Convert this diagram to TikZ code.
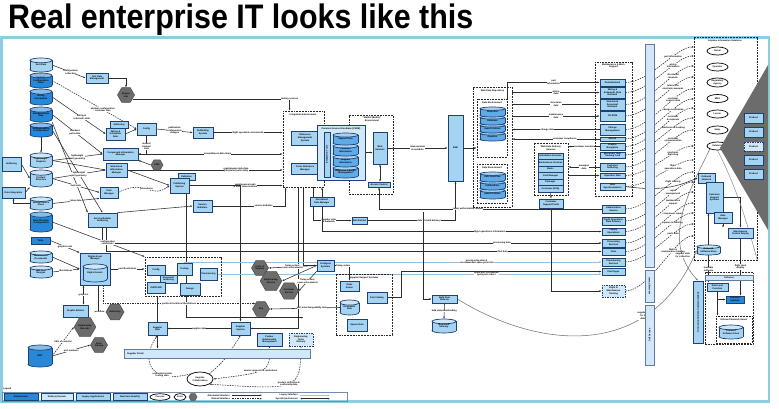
\documentclass[tikz,border=0pt]{standalone}
\usepackage{fontspec}
\usepackage{graphicx}
\setmainfont{Liberation Sans}
\usetikzlibrary{shapes.geometric,arrows.meta,calc}
\pgfdeclarelayer{bg}
\pgfsetlayers{bg,main}
\definecolor{lightc}{RGB}{165,212,243}
\definecolor{darkc}{RGB}{40,135,215}
\definecolor{midc}{RGB}{95,170,232}
\definecolor{bordc}{RGB}{30,65,115}
\definecolor{panelc}{RGB}{140,205,228}
\definecolor{hexc}{RGB}{108,108,108}
\definecolor{linec}{RGB}{45,45,45}
\definecolor{lblue}{RGB}{150,192,222}
\definecolor{bandc}{RGB}{208,232,250}
\newcommand\tf{\fontsize{2.3}{2.6}\selectfont\bfseries}
\newcommand\mybox[7][lb]{\node[#1,minimum width={(#5-#3)*1pt},minimum height={(#6-#4)*1pt}] (#2) at ({(#3+#5)/2},{(#4+#6)/2}) {#7};}
\newcommand\mycyl[7][lightc]{%
 \pgfmathsetmacro\cxa{(#3+#5)/2}\pgfmathsetmacro\crx{(#5-#3)/2}%
 \pgfmathsetmacro\cry{min(2.6,(#6-#4)*0.17)}%
 \pgfmathsetmacro\cyt{#4+\cry}\pgfmathsetmacro\cyb{#6-\cry}%
 \filldraw[fill=#1,draw=bordc,line width=0.7pt] (\cxa,\cyb) ellipse [x radius=\crx pt, y radius=\cry pt];
 \fill[#1] (#3,\cyt) rectangle (#5,\cyb);
 \draw[bordc,line width=0.7pt] (#3,\cyt) -- (#3,\cyb) (#5,\cyt) -- (#5,\cyb);
 \filldraw[fill=#1!55!white,draw=bordc,line width=0.7pt] (\cxa,\cyt) ellipse [x radius=\crx pt, y radius=\cry pt];
 \node[font=\tf,align=center,inner sep=0pt,minimum width={(#5-#3)*1pt},minimum height={(#6-#4)*1pt}] (#2) at (\cxa,{(#4+#6)/2}) {#7};}
\tikzset{
 lb/.style={draw=bordc,fill=lightc,line width=0.7pt,inner sep=0.3pt,font=\tf,align=center},
 db/.style={lb,fill=darkc},
 lbd/.style={lb,fill=bandc,dash pattern=on 1.5pt off 1pt},
 grp/.style={draw=black!85,dash pattern=on 1.8pt off 1pt,line width=0.75pt,inner sep=0pt},
 barb/.style={lb,fill=bandc,draw=bordc!70},
 hx/.style={regular polygon,regular polygon sides=6,fill=hexc,draw=black!70,line width=0.5pt,font=\tf,align=center,inner sep=0pt},
 ell/.style={ellipse,draw=black,line width=0.7pt,fill=white,inner sep=0pt,font=\tf,align=center},
 cn/.style={draw=linec,line width=0.55pt,-{Latex[length=2.2pt,width=1.8pt]}},
 dcn/.style={cn,dash pattern=on 1.5pt off 1pt},
 bcn/.style={draw=linec,line width=0.55pt,{Latex[length=2.2pt,width=1.8pt]}-{Latex[length=2.2pt,width=1.8pt]}},
 lbc/.style={draw=lblue,line width=0.8pt,-{Latex[length=2.2pt,width=1.8pt]}},
 lbl/.style={font=\tf,fill=white,inner sep=0.2pt,align=center},
 gl/.style={font=\tf,align=center,inner sep=0pt},
}
\begin{document}
\begin{tikzpicture}[x=1pt,y=-1pt]
\useasboundingbox (0,0) rectangle (779,409);
% title
\node[anchor=base west,inner sep=0pt,font=\fontsize{34}{36}\selectfont\bfseries] (title) at (8,29) {\scalebox{0.895}[1]{Real enterprise IT looks like this}};
\draw[panelc,line width=2.2pt] (1.5,37.5) rectangle (769,401.5);

% ---------------- left column
\mycyl[darkc]{c5}{30}{123}{52}{137}{3D Engineering\\Configuration}
\mycyl[darkc]{c4}{30}{107}{52}{122}{Standard Parts\\Data}
\mycyl[darkc]{c3}{30}{89}{52}{105}{Wiring\\Information}
\mycyl[darkc]{c2}{30}{73}{52}{88}{Systems\\Configuration\\Items}
\mycyl{c1}{30}{58}{52}{72}{Item Data}
\mycyl{c7}{30}{170}{52}{187}{Product\\Structure}
\mycyl{c6}{30}{153}{52}{168}{Lightweight\\Graphics}
\mybox{auth1}{2}{157}{21}{171}{Authoring}
\mybox{dint}{2}{187}{25}{198}{Data Integration}
\mycyl{c8}{30}{197}{52}{210}{Vehicle Source\\Plans}
\mycyl[darkc]{c9}{30}{212}{52}{232}{Fleet Planning\\Configuration}
\mybox[db]{tools}{31}{237}{50}{244}{Tools}
\mycyl{c11}{30}{266}{52}{278}{IMF Tool\\Designs}
\mycyl{c10}{30}{251}{52}{263}{Maintenance\\Documents}
\mycyl[darkc]{erp}{28}{345}{52}{367}{ERP}

% ---------------- middle left
\mybox{rdm}{86}{73}{108}{83}{Test Data\\Management}
\node[hx,minimum size=17pt] (hxa) at (126,95) {Engine\\Lab};
\mybox{auth2}{110}{121}{128}{128}{Authoring}
\mybox{wir}{106}{128}{125}{140}{Wiring \&\\Schematic\\Data}
\mybox{cfg}{137}{123}{156}{135}{Config}
\mybox{pub1}{193}{127}{213}{138}{Publishing\\System}
\mybox{cim}{103}{148}{138}{160}{Component Information\\Manager}
\node[hx,minimum size=12pt] (hxb) at (157,165) {CMS};
\mybox{sim}{106}{163}{127}{177}{Structured\\Information\\Manager}
\mybox{pubb}{178}{173}{195}{180}{Publisher}
\mybox{pubs}{170}{178}{189}{193}{Publishing\\System}
\mybox{task}{100}{187}{118}{198}{Task\\Manager}
\mybox{sb}{193}{200}{212}{212}{Service\\Bulletins}
\mybox{ssb}{88}{213}{117}{227}{Service Bulletin\\Authoring}
\mybox{dam}{80}{253}{110}{285}{}
\node[gl] (damt) at (95,258) {Digital Asset\\Manager};
\mycyl{damc}{83}{264}{107}{282}{Digital Assets}
\mybox[grp]{g1}{145}{257}{221}{296}{}
\mybox{cfg2}{147}{265}{165}{275}{Config}
\mybox{tool2}{177}{263}{192}{275}{Tooling}
\mybox{sda}{160}{275}{177}{283}{Document\\Authoring}
\mybox{supl}{147}{282}{165}{293}{SUPPLIER}
\mybox{design}{180}{283}{200}{295}{Design}
\mybox{prov}{200}{268}{217}{280}{Provisioning}
\mybox{ged}{63}{305}{88}{317}{Graphic Editors}
\node[hx,minimum size=18pt] (hxc) at (115,312) {Authoring};
\node[hx,minimum size=17pt] (hxd) at (85,327) {Engineering\\Records};
\node[hx,minimum size=17pt] (hxe) at (99,345) {Parts\\Catalog};
\mybox{supd}{148}{322}{167}{335}{Supplier\\Data}
\mybox[barb]{band}{124}{349}{310}{358}{}
\node[gl,anchor=west] (bandt) at (127,353.5) {Supplier Portal};
\node[ell,minimum width=26pt,minimum height=14pt] (spell) at (200,379) {Supplier\\Collaboration};
\mybox{supsys}{231}{322}{250}{335}{Supplier\\System}
\mybox{prm}{257}{333}{282}{346}{Partner\\Relationship\\Management}
\mybox[lbd]{eod}{289}{333}{313}{346}{Engineering\\Order\\Delivery}
\node[hx,minimum size=17pt] (hf) at (260,268) {Parts of\\Supplier};
\node[hx,minimum size=17pt] (hg) at (271,281) {Engineering\\Service};
\node[hx,minimum size=19pt] (hh) at (289,291) {Customer\\Service};
\node[hx,minimum size=17pt] (hi) at (261,309) {Sky};
\mybox{cfgsys}{317}{260}{334}{271}{Configure\\Systems}
\mybox[grp]{sss}{336}{274}{392}{335}{}
\node[gl] (ssst) at (364,277.5) {Supplier Support Systems};
\mybox{ssa}{340}{281}{359}{291}{Order\\Status}
\mybox{pcat}{367}{292}{387}{303}{Part Catalog}
\mycyl{sscyl}{340}{300}{359}{315}{Evaluation\\Data}
\mybox{spares}{347}{319}{367}{331}{Spares Data}

% ---------------- centre
\mybox[grp]{ie}{283}{111}{324}{187}{}
\node[gl] (iet) at (303,115) {Integration Environment};
\mybox{rms}{291}{131}{319}{145}{Reference\\Management\\System}
\mybox{crm}{291}{163}{319}{174}{Cross Reference\\Manager}
\mybox[grp]{mm}{349}{115}{393}{194}{}
\node[gl] (mmt) at (372,119) {``MultiUI (Bullet)''\\Environment};
\mybox[lb,fill=bandc]{csdb}{317}{125}{365}{180}{}
\node[gl] (csdbt) at (341,128.5) {Common Source Data Base (CSDB)};
\mybox{vbar}{324}{132}{330}{177}{}
\node[gl,rotate=90] (vbart) at (vbar) {Integration Tools};
\mycyl[midc]{s4}{333}{166}{358}{178}{Reference Change\\Management}
\mycyl[midc]{s3}{333}{155}{358}{167}{Support\\Information}
\mycyl[midc]{s2}{333}{144}{358}{156}{Common\\Information}
\mycyl[midc]{s1}{333}{133}{358}{145}{Support Data}
\mybox{ws}{373}{132}{387}{164}{Web\\Services}
\mybox{ac}{368}{182}{390}{187}{Access Control}
\mybox{dsm}{310}{197}{334}{206}{Distributed\\Data Manager}
\mybox{dext}{352}{217}{367}{224}{Data Extract}
\mybox{esb}{448}{115}{463}{181}{ESB}
\mybox[grp]{wdr}{473}{87}{512}{207}{}
\node[gl] (wdrt) at (492.5,91) {Web Data Repository};
\mybox[grp]{de1}{477}{99}{507}{157}{}
\node[gl] (de1t) at (492,103) {Data Environment};
\mycyl[midc]{d14}{480}{132}{505}{141}{Graphics}
\mycyl[midc]{d13}{480}{124}{505}{133}{Search Indices}
\mycyl[midc]{d12}{480}{116}{505}{125}{Database}
\mycyl[midc]{d11}{480}{107}{505}{117}{Data Files}
\mybox[grp]{de2}{477}{164}{507}{203}{}
\node[gl] (de2t) at (492,168) {Data Environment};
\mycyl[midc]{d23}{480}{189}{505}{199}{Search Indices}
\mycyl[midc]{d22}{480}{181}{505}{190}{Publications}
\mycyl[midc]{d21}{480}{172}{505}{182}{XML Data Files}
\mybox[grp]{wdd}{534}{143}{568}{195}{}
\node[gl] (wddt) at (551,148) {Web Data Delivery\\Services};
\mybox{w1}{538}{153}{563}{159}{Installation Services}
\mybox{w2}{538}{159}{563}{166}{Maintenance Services}
\mybox{w3}{538}{166}{563}{172}{Basic}
\mybox{w4}{538}{172}{563}{179}{Cmd Manager}
\mybox{w5}{538}{179}{563}{185}{Packager}
\mybox{w6}{538}{185}{563}{192}{Customer Notify}
\mybox{csp}{539}{199}{563}{208}{Customer\\Support Portal}
\mybox{bulk}{432}{295}{457}{303}{Bulk Data\\Delivery}
\mycyl{bulkc}{432}{319}{456}{333}{Bulk Data\\Delivery}

% ---------------- right
\mybox[grp]{r1}{595}{62}{632}{196}{}
\node[gl] (r1t) at (613.5,66) {Maintenance \& Work\\Support};
\mybox{r1a}{600}{79}{625}{86}{Data Retrieval}
\mybox{r1b}{600}{87}{625}{98}{Wiring \&\\Schematic Data\\Retrieval}
\mybox{r1c}{600}{99}{625}{110}{Structured\\Document\\Retrieval}
\mybox{r1d}{600}{111}{625}{121}{CD-ROM}
\mybox{r1e}{600}{124}{625}{135}{Change\\Management}
\mybox{r1f}{600}{137}{625}{141}{Search}
\mybox{r1g}{600}{143}{625}{150}{Graphic\\Navigation}
\mybox{r1h}{600}{152}{625}{158}{Electronic Task\\Tracking Card}
\mybox{r1i}{600}{163}{625}{171}{Customer\\Authoring}
\mybox{r1j}{600}{173}{625}{178}{Operation Data}
\mybox{r1k}{600}{183}{625}{190}{Data\\Synchronization}
\mybox{r2a}{602}{205}{625}{213}{Authorization\\Service}
\mybox{r2b}{602}{217}{625}{225}{Flight Operations\\Data Delivery}
\mybox{r2c}{602}{228}{625}{235}{Legacy\\Operations}
\mybox{r2d}{602}{239}{625}{247}{Processing\\Services}
\mybox{r2e}{602}{248}{625}{255}{Tools}
\mybox{r2f}{602}{258}{625}{266}{Provisioning\\Services}
\mybox{r2g}{602}{268}{625}{275}{Part Pages}
\mybox[lbd]{r2h}{602}{285}{625}{297}{Flight \&\\Maintenance\\Training}
\mybox[barb]{bar1}{645}{44}{654}{267}{}
\mybox[barb]{bar2}{645}{270}{654}{302}{}
\node[gl,rotate=90] (bar2t) at (bar2) {Learning Center};
\mybox[barb]{bar3}{645}{305}{654}{365}{}
\node[gl,rotate=90] (bar3t) at (bar3) {Self Service};
\mybox[grp]{ais}{694}{37}{757}{260}{}
\node[gl] (aist) at (725,41) {Airplane Information Solutions};
\node[ell,minimum width=21pt,minimum height=8pt] (e1) at (717.5,51) {Owner};
\node[ell,minimum width=21pt,minimum height=8pt] (e2) at (717.5,67) {Operator};
\node[ell,minimum width=21pt,minimum height=9pt] (e3) at (717.5,82.5) {Regulatory\\Agency};
\node[ell,minimum width=21pt,minimum height=8pt] (e4) at (717.5,98.5) {MRO};
\node[ell,minimum width=21pt,minimum height=8pt] (e5) at (717.5,114) {Lessor};
\node[ell,minimum width=21pt,minimum height=8pt] (e6) at (717.5,130) {Sales};
\node[ell,minimum width=21pt,minimum height=8pt] (e7) at (717.5,146) {Solutions};
\fill[hexc] (720,148) -- (768,65) -- (768,230) -- cycle;
\mybox{p1}{744}{113}{763}{123}{Product}
\mybox{p2}{744}{127}{763}{137}{Product}
\mybox[lbd]{p3}{744}{142}{763}{151}{Product}
\mybox{p4}{744}{155}{763}{165}{Product}
\mybox{p5}{744}{169}{763}{179}{Product}
\mybox{onb}{698}{173}{715}{183}{Onboard\\Network}
\mybox{css}{706}{182}{723}{213}{Customer\\Support\\Systems}
\mybox{dmg}{714}{212}{732}{223}{Data\\Manager}
\mybox{mcd}{728}{228}{753}{238}{Maintenance\\Control Display}
\mycyl{osw}{697}{245}{720}{255}{Onboard\\Software Store}
\mybox{tall}{693}{281}{703}{343}{}
\node[gl,rotate=90] (tallt) at (tall) {Air-to-Ground Data Communications};
\mybox[grp]{air}{705}{272}{753}{344}{}
\mybox[barb]{airh}{705}{275}{753}{280}{Airborne}
\mybox{air1}{707}{283}{728}{291}{Data Load\\Function}
\mybox[db]{air2}{726}{296}{744}{303}{Onboard\\Systems}
\mybox[grp]{air3}{716}{316}{752}{343}{}
\node[gl] (air3t) at (734,320) {Onboard Network Server};
\mycyl{aircyl}{719}{325}{743}{339}{Onboard\\Software Store}

% ---------------- legend
\node[gl,anchor=west] (legt) at (3,389) {Legend};
\draw[bordc!60,line width=0.5pt] (2,392) rectangle (347,401);
\mybox[db]{lg1}{4}{393.5}{38}{400.5}{Data Domain}
\mybox[lb,fill=bandc]{lg2}{41}{393.5}{73}{400.5}{Delivery Domain}
\mybox{lg3}{76}{393.5}{110}{400.5}{Legacy Applications}
\mybox{lg4}{113}{393.5}{147}{400.5}{New Functionality}
\node[ell,minimum width=20pt,minimum height=6.5pt] (lg5) at (160,397) {Process};
\node[ell,minimum width=12pt,minimum height=6.5pt] (lg6) at (180,397) {Actor};
\node[hx,minimum size=8pt] (lg7) at (193,397) {};
\coordinate (la1) at (232,395.3); \coordinate (la2) at (262,395.3);
\coordinate (lb1) at (232,398.7); \coordinate (lb2) at (262,398.7);
\coordinate (lc1) at (300,395.3); \coordinate (lc2) at (330,395.3);
\coordinate (ld1) at (300,398.7); \coordinate (ld2) at (330,398.7);
\node[gl,anchor=east] (lat) at (230,395.3) {Automated Interface};
\node[gl,anchor=east] (lbt) at (230,398.7) {Manual Interface};
\node[gl,anchor=east] (lct) at (298,395.3) {Legacy Interface};
\node[gl,anchor=east] (ldt) at (298,398.7) {Sync/Asynchronous};

% ---------------- connectors (behind)
\begin{pgfonlayer}{bg}
\fill[white] (0,0) rectangle (779,409);
\draw[cn] (la1) -- (la2);
\draw[dcn] (lb1) -- (lb2);
\draw[lbc] (lc1) -- (lc2);
\draw[bcn] (ld1) -- (ld2);
% left column
\draw[cn] (c1.east) -- node[lbl,pos=0.55]{configuration\\collection} (rdm.west);
\draw[cn] (rdm.east) -| (hxa.north);
\draw[cn] (hxa.-30) -| node[lbl,pos=0.5]{tooling sources} ([xshift=7pt]ie.north west);
\draw[dcn] (c2.east) -- node[lbl,pos=0.6]{airplane configuration\\customer data} (cfg.west);
\draw[cn] (c3.east) -- node[lbl,pos=0.55]{wiring \&\\schematic data} (wir.west);
\draw[cn] (c4.east) -- node[lbl,pos=0.45]{standard\\parts data} (cim.west);
\draw[cn] (c4.south east) -- (ssb.north west);
\draw[cn] (c5.east) -- (ssb.north);
\draw[cn] (c5.south) -- (c6.north);
\draw[cn] (auth1.east) -- (c7.west);
\draw[cn] (c8.west) -| (dint.south);
\draw[cn] (dint.east) -- (c7.south west);
\draw[cn] (c6.east) -- node[lbl,pos=0.5]{lightweight\\part geometry} (cim.west);
\draw[cn] (c6.east) -- (sim.west);
\draw[cn] (c7.east) -- node[lbl,pos=0.5]{lightweight\\part geometry} (sim.west);
\draw[cn] (c7.east) -- node[lbl,pos=0.5]{task data} (task.west);
\draw[cn] (c8.east) -- node[lbl,pos=0.5]{labor data} (task.south west);
\draw[cn] (wir.east) -- (cfg.west);
\draw[cn] (cfg.east) -- node[lbl,pos=0.5]{publication\\configuration\\changes} (pub1.west);
\draw[cn] (cfg.south) |- node[lbl,pos=0.3]{manual\\tracked\\data} (cim.east);
\draw[cn] (hxb.west) -- (cim.south east);
\draw[cn] (sim.east) -- (pubs.west);
\draw[dcn] (task.east) .. controls (145,178) and (150,200) .. node[lbl,pos=0.5]{procedures} (pubs.west);
\draw[cn] (pub1.east) -- node[lbl,pos=0.5]{flight operations documents} (pub1.east -| ie.west);
\draw[cn] (cim.east) -- node[lbl,pos=0.55]{airworthiness data items} (cim.east -| ie.west);
\draw[cn] (sim.east) -- node[lbl,pos=0.7]{maintenance task data\\(illustrated parts data)} (sim.east -| ie.west);
\draw[cn] (pubs.east) -- node[lbl,pos=0.6]{maintenance tasks\\\& other data modules} (pubs.east -| ie.west);
\draw[cn] (sb.east) -| node[lbl,pos=0.35]{service bulletins} ([xshift=3pt]ie.south west);
\draw[cn] (ssb.north east) -- (sb.west);
\draw[cn] (pubs.east) -| (supsys.north);
\draw[cn] ([xshift=-3pt]pubs.south east) |- ([yshift=4pt]supsys.north -| ie.south);
% centre
\draw[cn] (rms.east) -- (rms.east -| csdb.west);
\draw[cn] (crm.east) -- (crm.east -| csdb.west);
\draw[cn] (csdb.east) -- (csdb.east -| ws.west);
\draw[bcn] (ws.south) -- (ws.south |- ac.north);
\draw[cn] (ws.east) -- node[lbl,pos=0.5]{released data\\\& metadata} (ws.east -| esb.west);
\draw[cn] (esb.east) -- (esb.east -| de1.west);
\draw[cn] (dsm.north) -- (dsm.north |- ie.south);
\draw[cn] (ie.south) |- (cfgsys.west);
\draw[cn] ([xshift=-5pt]ie.south) |- (supsys.east);
\draw[cn] ([xshift=10pt]ie.south) |- node[lbl,pos=0.7]{supplier data\\\& metadata} (dext.west);
\draw[cn] (dext.east) -| node[lbl,pos=0.35]{data for bulk delivery} (esb.south);
\draw[cn] (de1.north east) |- node[lbl,pos=0.75]{part\\information} (r1a.west);
\draw[cn] (wdr.east |- r1b.west) -- node[lbl]{wiring\\data} (r1b.west);
\draw[cn] (wdr.east |- r1c.west) -- node[lbl]{structures\\data} (r1c.west);
\draw[cn] (wdr.east |- r1d.west) -- node[lbl]{maintenance\\data} (r1d.west);
\draw[cn] (r1e.west) -- node[lbl,pos=0.6]{change data} (r1e.west -| wdr.east);
\draw[cn] (r1f.west) -- node[lbl,pos=0.4]{customer compliance} (r1f.west -| wdr.east);
\draw[cn] (r1g.west) -- node[lbl,pos=0.5]{customer creation} (r1g.west -| wdd.east);
\draw[cn] (r1i.west) -- node[lbl,pos=0.5]{managed\\data} (r1i.west -| wdd.east);
\draw[cn] (wdd.east |- r1j.west) -- (r1j.west);
\draw[cn] (w6.south) -- (csp.north);
\draw[cn] (r2a.west) -| node[lbl,pos=0.3]{repair authorization request} (ac.south);
\draw[cn] (dsm.south) |- node[lbl,pos=0.8]{flight operations information} (r2c.west);
\draw[cn] (ssb.south) |- node[lbl,pos=0.9]{processing data} (r2d.west);
\draw[cn] ([xshift=4pt]ssb.south) |- node[lbl,pos=0.9]{fleet data} (r2e.west);
\draw[lbc] (tool2.north) |- node[lbl,pos=0.85]{provisioning data \&\\recommended spare parts list} (r2f.west);
\draw[lbc] (prov.east) -- node[lbl,pos=0.7]{spare part information\\spare part orders} (prov.east -| r2g.west);
\draw[cn] (csp.south) |- (r2h.west);
\draw[cn] (pcat.east) -- ++(14,0) |- (r2g.west);
\coordinate (vb) at (423,212);
\draw[cn] (vb) |- (bulk.west);
\draw[cn] (bulk.south) -- node[lbl]{bulk data downloading} (bulkc.north);
\draw[cn,draw=black!55] (bulk.east) .. controls (540,350) and (650,360) .. node[lbl,pos=0.72]{supplier data\\for bulk\\delivery} (osw.west);
% lower middle
\draw[cn] (cfgsys.west) -- node[lbl,pos=0.5]{fixing orders,\\source documents} (hf.east);
\draw[cn] (cfgsys.west) -- (hg.east);
\draw[cn] (cfgsys.south west) -- node[lbl,pos=0.5]{fixing orders,\\source documents} (hh.east);
\draw[cn] (cfgsys.east) -| node[lbl,pos=0.3]{fixing orders} (ssa.north);
\draw[cn] (sscyl.west) -- node[lbl,pos=0.4]{part interchangeability data} (hi.east);
\draw[cn] (supsys.west) -- node[lbl,pos=0.5]{supplier data} (supd.east);
\draw[cn] (supd.north) -- (supd.north |- g1.south);
\draw[dcn] ([xshift=8pt]dam.south) |- node[lbl,pos=0.75]{part/cost technical illustrations} (hi.north west);
\draw[cn] (c10.east) -- (dam.west);
\draw[cn] (c11.east) -- node[lbl,pos=0.5]{illustrations} (dam.west);
\draw[cn] (tools.east) -- node[lbl,pos=0.5]{graphic tools} (dam.north west);
\draw[cn] (c9.east) -- node[lbl,pos=0.6]{configuration\\collections} (g1.north west);
\draw[bcn] ([xshift=8pt]ged.north) -- node[lbl]{graphics} ([xshift=8pt]ged.north |- dam.south);
\draw[cn] ([xshift=3pt]dam.south) |- node[lbl,pos=0.6]{workflow} (hxc.west);
\draw[cn] (dam.east) -- node[lbl,pos=0.5]{part illustrations} (dam.east -| g1.west);
\draw[dcn] (erp.east) -- node[lbl,pos=0.5]{bills of material} (hxd.west);
\draw[cn] (erp.east) -- node[lbl,pos=0.5]{part numbers} (hxe.west);
\draw[cn] (supd.south) -- (supd.south |- band.north);
\draw[dcn] (spell.north west) .. controls (150,385) and (140,360) .. node[lbl,pos=0.3]{connected vendor\\tooling data} (supd.south);
\draw[dcn] (spell.north east) .. controls (225,360) .. node[lbl,pos=0.7]{supplier data} (supsys.south);
\draw[dcn] (prm.south) .. controls (270,372) .. node[lbl,pos=0.55]{service requests \& resolutions} (spell.east);
\draw[dcn] (eod.south) .. controls (300,390) .. node[lbl,pos=0.5]{product definition \&\\conformity data} (spell.south east);
% right
\foreach \s/\ty/\tx [count=\i] in {r1a/47/{part information},r1b/56/{wiring\\information},r1c/66/{structured\\manuals},r1d/77/{interactive\\electronic manuals},r1e/89/{customer\\support data},r1f/99/{change notification},r1g/108/{customer\\documents},r1h/118/{maintenance tracking},r1i/130/{customer\\communication},r1j/146/{electronic\\flight bag},r1k/160/{flight\\operations data},r2a/172/{flight training},r2b/182/{repair\\management},r2c/192/{maintenance\\support},r2d/203/{component repairs},r2e/213/{spares \& ordering},r2f/224/{parts data},r2h/236/{flight \&\\maintenance training}} {
 \coordinate (t\i) at (694,\ty);
 \draw[dcn] (\s.east) .. controls +(24,0) and +(-18,0) .. node[lbl,pos=0.66]{\tx} (t\i);
}
\draw[cn] (css.east) -| (mcd.north);
\draw[cn] (onb.south) -- (onb.south |- css.north);
\draw[cn] (dmg.south) -- (dmg.south |- mcd.north);
\draw[cn] (osw.north) -- (osw.north |- css.south);
\draw[cn] (mcd.south) -- node[lbl]{flight deck\\display} (mcd.south |- air2.north);
\draw[cn] (osw.south) -- node[lbl]{loadable\\software} (osw.south |- air1.north);
\draw[cn] (air1.south) |- (air2.west);
\draw[cn] (air1.south) -- (air1.south |- air3.north);
\draw[draw=black!45,line width=0.5pt] (e7.south) .. controls (735,185) and (745,215) .. (ais.south east);
\draw[cn,draw=black!55] (e7.south west) .. controls (690,190) and (660,240) .. node[lbl,pos=0.8]{supplier data\\for collection} (tall.north);
\draw[cn] (r1k.east) .. controls (665,192) and (680,185) .. (onb.west);
\end{pgfonlayer}
\end{tikzpicture}
\end{document}
